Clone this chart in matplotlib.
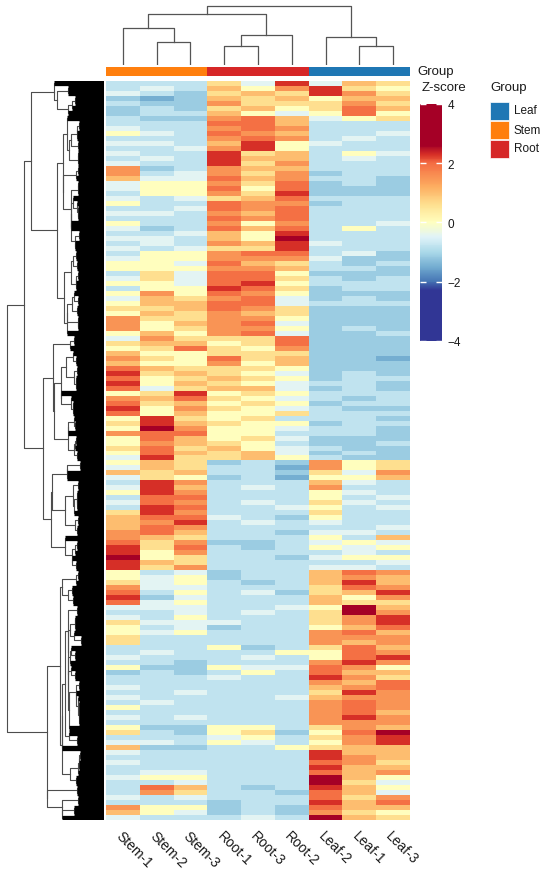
import numpy as np
import matplotlib
matplotlib.use('Agg')
import matplotlib.pyplot as plt
from matplotlib.colors import LinearSegmentedColormap, Normalize
from matplotlib.patches import Rectangle

plt.rcParams['font.family'] = ['Liberation Sans', 'DejaVu Sans']

# samples / groups
samples = ['Stem-1', 'Stem-2', 'Stem-3', 'Root-1', 'Root-3', 'Root-2', 'Leaf-2', 'Leaf-1', 'Leaf-3']
sample_group = ['Stem', 'Stem', 'Stem', 'Root', 'Root', 'Root', 'Leaf', 'Leaf', 'Leaf']
legend_groups = ['Leaf', 'Stem', 'Root']
group_colors = {'Leaf': '#1f77b4', 'Stem': '#ff7f0e', 'Root': '#d62728'}

# column dendrogram: (child a, child b, height), new nodes numbered from 9
col_merges = [(1, 2, 22.4), (0, 9, 36.7), (3, 4, 18.4), (11, 5, 30.0),
              (10, 12, 50.7), (7, 8, 19.0), (6, 14, 27.4), (13, 15, 59.0)]

# z-score, one letter per cell
code_values = {'A': -1.5, 'B': -1.15, 'C': -0.8, 'D': -0.45, 'E': 0.0, 'F': 0.6,
               'G': 1.0, 'H': 1.5, 'I': 1.95, 'J': 2.3, 'K': 2.6}

# rows top to bottom, columns in sample order
row_codes = [
    'CCCFDJDGF', 'CDCGEHJFE', 'DCBFGFJHF', 'BABGFGEGG', 'CBBHFFFHF', 'BCBFGEFIG',
    'BCCGEDEIE', 'CBBHIGDEF', 'CCCIIGCCC', 'DCCHIHCCC', 'EDCIHGCCD', 'CCCHIHCDC',
    'DDCGJEDCC', 'CCDHJECCC', 'DCCJFGCED', 'CDCJGGCDC', 'DCCJFHCCC', 'HBCHGGCCC',
    'HCDHFHBCC', 'GDDIGHCCB', 'DEEHFIBCB', 'DEEIEIBBB', 'CEEHFJBBB', 'DCDFGICCC',
    'ECCIHHBCC', 'CCDIHICCC', 'DDCHGICCC', 'CCCIHICCC', 'ECCHEHCCD', 'DBCIGICEC',
    'CCDGEJCCC', 'DDCGEKCCC', 'CDCHGJDCC', 'DCDFFJCCC', 'CEEHIICDB', 'DEEHHHDBB',
    'EEDIGFCBC',
    'EEEHHGCCB', 'CFDIIEBBB', 'DFDIIFCBC', 'EEDIJECCC', 'CEEJIFBCC', 'EHEIHEBBB',
    'DGFHIDBCB', 'EGGIIDCCC', 'FFGIHFBBB', 'EGFHGFBBB', 'HFFHHEBBB', 'HEGHIDBBB',
    'HEFHHEBCB', 'EGEHIDBBC', 'DHFFFIBBB', 'FGGEFIBBB', 'EFIFEHBBB', 'GEEFFFBBB',
    'HFEIFGBBA', 'GEEHEGBBB', 'IGFFFEBBB', 'JFGFEDBCB', 'IEFGFEBCC', 'JEGFEDCCB',
    'IDFGGDBCB', 'EFJEFECCC', 'HGIFEDCBC', 'IFGEFEBCC', 'JEHFEDCBB', 'IEGEEFCCC',
    'EJFEFCCCB', 'FJGFEEBCC', 'EKHEEDCCB', 'HIIEECCCB', 'EIGEFDBBB', 'EHGFECBBC',
    'FIFGEDCBB',
    'EIGFGDBCB', 'DJFFGECBB', 'EGFBCBHEF', 'DGFCCAHEF', 'GFGCCBFDH', 'DFEBCAEEG',
    'CJHCCCGDC', 'DJGCDCHCC', 'EJHCCCEDC', 'CIICCCECD', 'DIHCDCFDC', 'CJICCDECD',
    'FJHCCCFCC', 'GIIDCBECC', 'GHJCDCDCC', 'GIHCCCCCD', 'HIGCCBDDC', 'HGFCCCECG',
    'IFHBBCDED', 'JFICBCEDE', 'JEHCCCCDC', 'KEFCCBDEE', 'JGFCCCCCD', 'JFHCCCDDC',
    'ECDBCCGIH', 'EDEBCCGHG', 'FDECBCGJG', 'HDDCCCFIH', 'ICECDBFGJ', 'JBDCCCGEH',
    'IDECCCGFF', 'DDDCCDEKG', 'CCDCDCFKH', 'DCECCCFHJ', 'FDDDCCFHJ', 'ECDBCCEGI',
    'EDECCCHIG',
    'FCCCCCHHH', 'FCCCCCHGH', 'CCCEBCFIG', 'CDCCCEEIH', 'DCCCDCEIJ', 'CCBCCCHJH',
    'EBBEDDIHE', 'BCBCECIGG', 'CCCDCCJHF', 'CCCCCCHGI', 'DCCCCCGHI', 'CCDCCCFJH',
    'DCCCCDGHH', 'CDCCCCHIH', 'ECCCCCHIH', 'CCCCCCHIG', 'DCDCCCHJH', 'CCCCCCHHH',
    'EBBEECFHG', 'FCBEFBEIK', 'CCCDECFHJ', 'DDCEDCEHJ', 'GBBCCEFGG', 'DCCCCCJGG',
    'CCCCCCJHG', 'DCCCCCIHF', 'CCCCCCJGG', 'CDDCCCIGH', 'DEECCCKGE', 'CCDCCCKFD',
    'CIGCBCJGE', 'CHFCCBIGD', 'DCDCCCIFH', 'CCCBCCJGI', 'HEEBCBIGG', 'GEDBCBHFE',
    'DCCCDCKGF',
]

fig_w, fig_h = 550, 870
fig = plt.figure(figsize=(fig_w / 100, fig_h / 100), dpi=100)


def px_axes(x0, y0, x1, y1):
    return fig.add_axes([x0 / fig_w, 1 - y1 / fig_h, (x1 - x0) / fig_w, (y1 - y0) / fig_h])


cmap = LinearSegmentedColormap.from_list('zs', [
    (0.0, '#313695'), (1.7 / 8, '#313695'), (2.0 / 8, '#4575b4'), (2.5 / 8, '#74add1'),
    (3.0 / 8, '#abd9e9'), (3.5 / 8, '#e0f3f8'), (4.0 / 8, '#ffffbf'), (4.6 / 8, '#fee090'),
    (5.2 / 8, '#fdae61'), (6.0 / 8, '#f46d43'), (6.3 / 8, '#d73027'), (6.6 / 8, '#a50026'),
    (1.0, '#a50026')])
norm = Normalize(vmin=-4, vmax=4)

Z = np.array([[code_values[c] for c in r] for r in row_codes])
n_rows, n_cols = Z.shape

# heatmap
ax = px_axes(106, 82, 410, 821)
mesh = ax.pcolormesh(Z, cmap=cmap, norm=norm)
ax.set_xlim(0, n_cols)
ax.set_ylim(n_rows, 0)
for s in ax.spines.values():
    s.set_visible(False)
ax.set_yticks([])
ax.set_xticks(np.arange(n_cols) + 0.5)
ax.set_xticklabels(samples, rotation=-45, ha='left', va='top', rotation_mode='anchor',
                   fontsize=10, color='#1a1a1a')
ax.tick_params(axis='x', length=0, pad=6)

# group annotation bar
gax = px_axes(106, 67.7, 410, 77)
for j, g in enumerate(sample_group):
    gax.add_patch(Rectangle((j, 0), 1, 1, color=group_colors[g], lw=0))
gax.set_xlim(0, n_cols)
gax.set_ylim(0, 1)
gax.axis('off')
fig.text(417 / fig_w, 1 - 72.5 / fig_h, 'Group', fontsize=9.5, va='center', ha='left', color='#1a1a1a')

# column dendrogram
cdax = px_axes(106, 5, 410, 66)
pos = {i: i + 0.5 for i in range(n_cols)}
hgt = {i: 0.0 for i in range(n_cols)}
for k, (a, b, h) in enumerate(col_merges):
    cdax.plot([pos[a], pos[a], pos[b], pos[b]], [hgt[a], h, h, hgt[b]], color='#555555', lw=0.9)
    pos[n_cols + k] = (pos[a] + pos[b]) / 2
    hgt[n_cols + k] = h
cdax.set_xlim(0, n_cols)
cdax.set_ylim(0, 60.5)
cdax.axis('off')

# row dendrogram, built from the rows by merging neighbouring clusters (average linkage)
D = np.sqrt(((Z[:, None, :] - Z[None, :, :]) ** 2).sum(-1))
clusters = [[i] for i in range(n_rows)]
cpos = [i + 0.5 for i in range(n_rows)]
chgt = [0.0] * n_rows
leaf_h = np.zeros(n_rows)
links = []
while len(clusters) > 1:
    dists = [D[np.ix_(clusters[k], clusters[k + 1])].mean() for k in range(len(clusters) - 1)]
    k = int(np.argmin(dists))
    h = max(dists[k], chgt[k], chgt[k + 1])
    links.append((cpos[k], cpos[k + 1], chgt[k], chgt[k + 1], h))
    for c in (k, k + 1):
        if len(clusters[c]) == 1:
            leaf_h[clusters[c][0]] = h
    clusters[k] = clusters[k] + clusters[k + 1]
    cpos[k] = (cpos[k] + cpos[k + 1]) / 2
    chgt[k] = h
    del clusters[k + 1], cpos[k + 1], chgt[k + 1]

hmax = links[-1][4]


def hx(h):
    # each row stands for a bundle of genes, so leaves sit deeper than the first merge
    return 0.0 if h == 0 else 0.22 + 0.78 * (h / hmax) ** 1.6


rdax = px_axes(4, 82, 103.5, 821)
for pa, pb, ha_, hb_, h in links:
    rdax.plot([hx(ha_), hx(h), hx(h), hx(hb_)], [pa, pa, pb, pb], color='#4d4d4d', lw=0.8)
rdax.hlines(np.arange(n_rows) + 0.5, 0, [hx(v) for v in leaf_h], color='black',
            lw=739 / n_rows * 0.76)
rdax.set_xlim(1.03, 0)
rdax.set_ylim(n_rows, 0)
rdax.axis('off')

# colour bar
cax = px_axes(420, 102, 442, 345)
cb = fig.colorbar(mesh, cax=cax, ticks=[-4, -2, 0, 2, 4])
cb.outline.set_visible(False)
cax.set_ylim(-4.11, 4.1)
cax.tick_params(direction='in', color='white', length=4, width=1, left=True, right=True,
                labelsize=8.5, labelcolor='#1a1a1a', pad=4)
fig.text(422 / fig_w, 1 - 88 / fig_h, 'Z-score', fontsize=9.5, va='center', ha='left', color='#1a1a1a')

# group legend
fig.text(490 / fig_w, 1 - 88 / fig_h, 'Group', fontsize=9.5, va='center', ha='left', color='#1a1a1a')
for i, g in enumerate(legend_groups):
    y0 = 102.5 + i * 19
    fig.add_artist(Rectangle((490 / fig_w, 1 - (y0 + 18) / fig_h), 19 / fig_w, 18 / fig_h,
                             transform=fig.transFigure, facecolor=group_colors[g], edgecolor='white', lw=0.5))
    fig.text(514 / fig_w, 1 - (y0 + 9) / fig_h, g, fontsize=8.5, va='center', ha='left', color='#1a1a1a')

fig.savefig('out.png', dpi=100)
